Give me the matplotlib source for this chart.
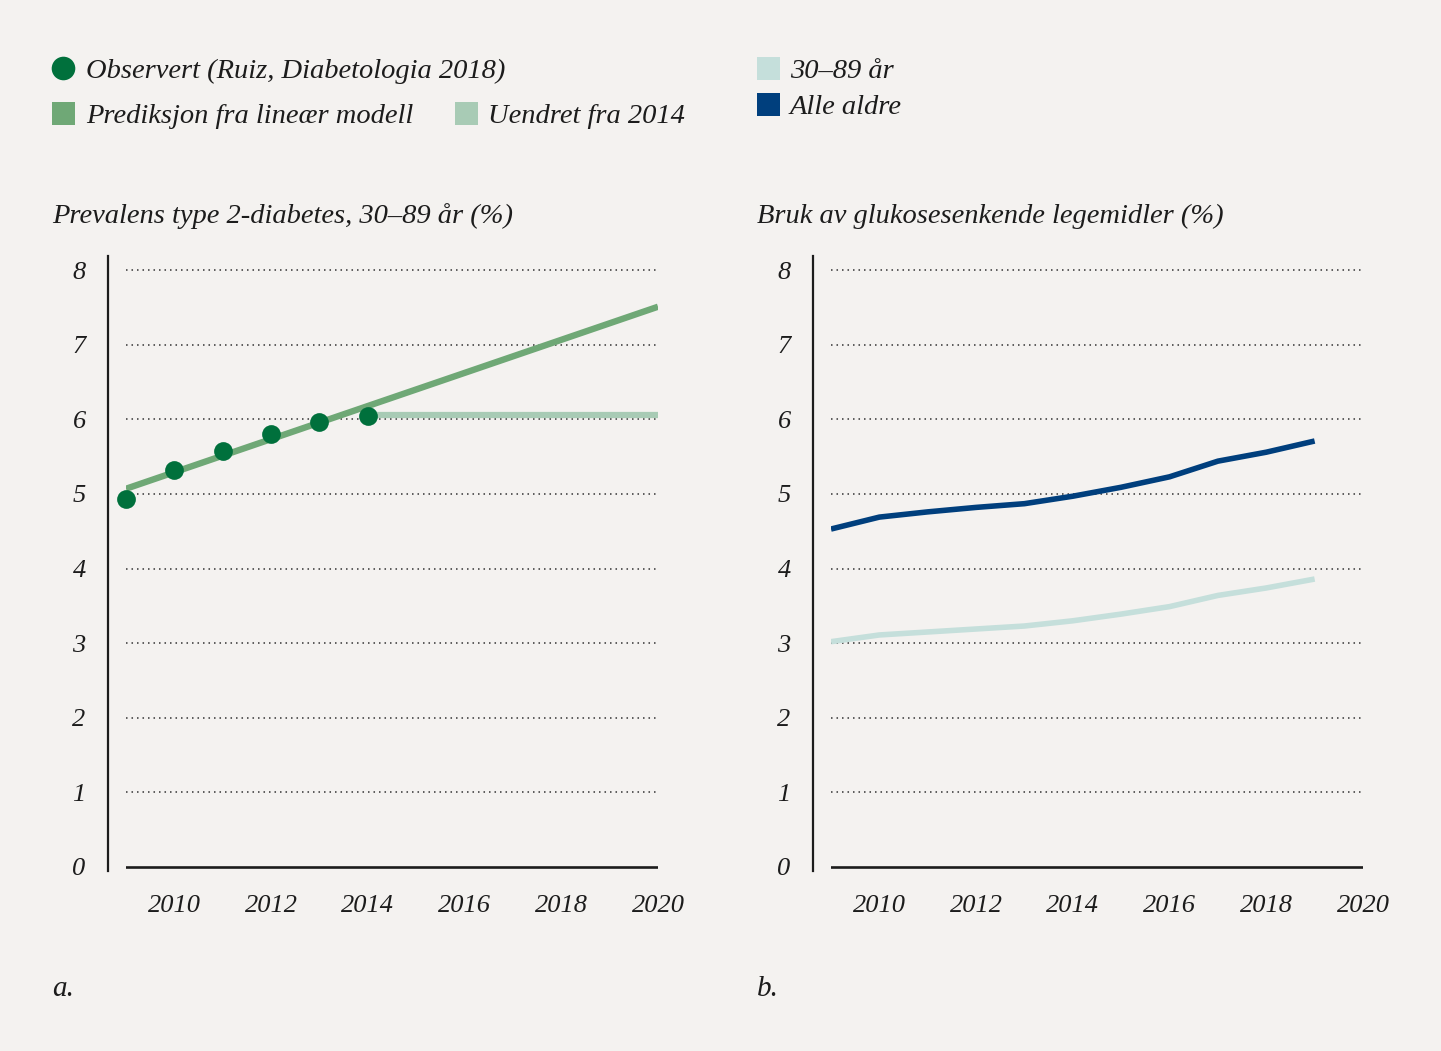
import numpy as np
import matplotlib.pyplot as plt
from matplotlib.patches import Rectangle
from matplotlib.lines import Line2D

# Panel a: prevalence of type 2 diabetes, 30-89 years (%)
obs_years = [2009, 2010, 2011, 2012, 2013, 2014]
obs_prev = [4.93, 5.32, 5.58, 5.80, 5.96, 6.05]
linear_years = [2009, 2020]
linear_prev = [5.07, 7.51]
flat_years = [2014, 2020]
flat_prev = [6.06, 6.06]

# Panel b: use of glucose-lowering drugs (%)
drug_years = [2009, 2010, 2011, 2012, 2013, 2014, 2015, 2016, 2017, 2018, 2019]
age_30_89 = [3.02, 3.11, 3.15, 3.19, 3.23, 3.30, 3.39, 3.49, 3.64, 3.74, 3.86]
all_ages = [4.53, 4.69, 4.76, 4.82, 4.87, 4.97, 5.09, 5.23, 5.44, 5.56, 5.71]

yticks = [0, 1, 2, 3, 4, 5, 6, 7, 8]
xticks = [2010, 2012, 2014, 2016, 2018, 2020]

BG = '#f4f2f0'
DOT = '#00703c'
LINEAR = '#6fa876'
FLAT = '#a8cbb5'
LIGHT = '#c5dfdb'
DARK = '#003f7d'
INK = '#1c1c1c'
FONT = 'Liberation Serif'

W, H = 1441, 1051
fig = plt.figure(figsize=(W / 100, H / 100), dpi=100, facecolor=BG)


def fx(px):
    return px / W


def fy(py):
    return 1 - py / H


def setup_axes(ax):
    ax.set_facecolor(BG)
    ax.set_ylim(-0.054, 8.19)
    ax.set_xlim(2009, 2020)
    for s in ['top', 'right', 'bottom']:
        ax.spines[s].set_visible(False)
    ax.spines['left'].set_position(('outward', 13))
    ax.spines['left'].set_color(INK)
    ax.spines['left'].set_linewidth(1.6)
    ax.set_yticks(yticks)
    ax.set_xticks(xticks)
    ax.tick_params(axis='y', length=0, pad=16)
    ax.tick_params(axis='x', length=0, pad=17)
    for lab in ax.get_yticklabels() + ax.get_xticklabels():
        lab.set_fontfamily(FONT)
        lab.set_fontstyle('italic')
        lab.set_fontsize(19)
        lab.set_color(INK)
    for v in yticks[1:]:
        ax.axhline(v, color='#333333', lw=1.1, ls=(0, (1, 2.6)), zorder=1)
    ax.axhline(0, color=INK, lw=1.9, zorder=2)


# panel a
ax1 = fig.add_axes([fx(126), fy(871), fx(658 - 126), fy(256) - fy(871)])
setup_axes(ax1)
ax1.plot(flat_years, flat_prev, color=FLAT, lw=4.5, solid_capstyle='butt', zorder=3)
ax1.plot(linear_years, linear_prev, color=LINEAR, lw=4.6, solid_capstyle='butt', zorder=4)
ax1.plot(obs_years, obs_prev, 'o', color=DOT, ms=13.5, mec='none', zorder=5, clip_on=False)

# panel b
ax2 = fig.add_axes([fx(831), fy(871), fx(1363 - 831), fy(256) - fy(871)])
setup_axes(ax2)
ax2.plot(drug_years, age_30_89, color=LIGHT, lw=4.0, solid_capstyle='butt', zorder=3)
ax2.plot(drug_years, all_ages, color=DARK, lw=4.0, solid_capstyle='butt', zorder=4)

# titles and panel letters
txt = dict(family=FONT, style='italic', color=INK)
fig.text(fx(52), fy(223), 'Prevalens type 2-diabetes, 30–89 år (%)', fontsize=20.5, va='baseline', **txt)
fig.text(fx(757), fy(223), 'Bruk av glukosesenkende legemidler (%)', fontsize=20.5, va='baseline', **txt)
fig.text(fx(52), fy(996), 'a.', fontsize=21, va='baseline', **txt)
fig.text(fx(757), fy(996), 'b.', fontsize=21, va='baseline', **txt)

# legends
fig.add_artist(Line2D([fx(63)], [fy(68)], marker='o', color=DOT, ms=17, mec='none', ls='none'))
fig.text(fx(86), fy(78), 'Observert (Ruiz, Diabetologia 2018)', fontsize=20.5, va='baseline', **txt)


def square(x, y, color):
    fig.add_artist(Rectangle((fx(x), fy(y + 23)), fx(23), fy(0) - fy(23),
                             transform=fig.transFigure, color=color, lw=0))


square(52, 102, LINEAR)
fig.text(fx(86), fy(123), 'Prediksjon fra lineær modell', fontsize=20.5, va='baseline', **txt)
square(455, 102, FLAT)
fig.text(fx(488), fy(123), 'Uendret fra 2014', fontsize=20.5, va='baseline', **txt)
square(757, 57, LIGHT)
fig.text(fx(790), fy(78), '30–89 år', fontsize=20.5, va='baseline', **txt)
square(757, 93, DARK)
fig.text(fx(790), fy(114), 'Alle aldre', fontsize=20.5, va='baseline', **txt)

fig.savefig('out.png', dpi=100, facecolor=BG)
